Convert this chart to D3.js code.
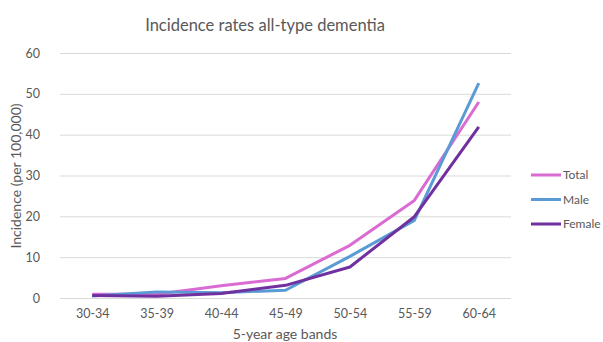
<!DOCTYPE html>
<html>
<head>
<meta charset="utf-8">
<script src="https://cdn.jsdelivr.net/npm/d3@7"></script>
<style>
  html, body { margin: 0; padding: 0; background: #fff; }
  svg { display: block; font-family: Lato, "Noto Sans", sans-serif; }
</style>
</head>
<body>
<svg id="chart" width="603" height="342"></svg>
<script>
// Age bands on the x axis
const ageBands = ["30-34", "35-39", "40-44", "45-49", "50-54", "55-59", "60-64"];
// Incidence per 100,000 for each band
const totalRates  = [0.9, 0.9, 3.0, 4.8, 12.9, 23.9, 48.0];
const maleRates   = [0.5, 1.5, 1.3, 1.9, 10.2, 19.0, 52.6];
const femaleRates = [0.6, 0.4, 1.1, 3.1, 7.6, 19.9, 41.9];
const yTicks = [0, 10, 20, 30, 40, 50, 60];

const seriesNames  = ["Total", "Male", "Female"];
const seriesColors = ["#DA6BD2", "#5B9BD5", "#7030A0"];
const seriesValues = [totalRates, maleRates, femaleRates];

const svg = d3.select("#chart");
const plot = { left: 60, right: 511, top: 53, bottom: 298 };
const textColor = "#595959";
const font = "Lato, sans-serif";

const x = d3.scalePoint().domain(ageBands).range([plot.left, plot.right]).padding(0.5);
const y = d3.scaleLinear().domain([0, 60]).range([plot.bottom, plot.top]);

// Title
svg.append("text")
  .attr("x", 265).attr("y", 31)
  .attr("text-anchor", "middle")
  .attr("font-size", 16.5)
  .attr("fill", textColor)
  .text("Incidence rates all-type dementia");

// Horizontal gridlines + y tick labels
const yAxis = d3.axisLeft(y).tickValues(yTicks).tickSize(-(plot.right - plot.left)).tickPadding(20);
const gy = svg.append("g").attr("transform", `translate(${plot.left},0)`).call(yAxis);
gy.select(".domain").remove();
gy.selectAll(".tick line").attr("stroke", "#d9d9d9").attr("stroke-width", 1);
gy.selectAll(".tick text").attr("fill", textColor).attr("font-size", 12.5)
  .attr("font-family", font);

// X tick labels
const xAxis = d3.axisBottom(x).tickSize(0).tickPadding(11);
const gx = svg.append("g").attr("transform", `translate(0,${plot.bottom})`).call(xAxis);
gx.select(".domain").remove();
gx.selectAll(".tick text").attr("fill", textColor).attr("font-size", 12.5)
  .attr("font-family", font);

// Axis titles
svg.append("text")
  .attr("x", 285).attr("y", 339)
  .attr("text-anchor", "middle")
  .attr("font-size", 14)
  .attr("fill", textColor)
  .text("5-year age bands");

svg.append("text")
  .attr("transform", "translate(21,176) rotate(-90)")
  .attr("text-anchor", "middle")
  .attr("font-size", 14)
  .attr("fill", textColor)
  .text("Incidence (per 100,000)");

// Lines
const line = d3.line().x((d, i) => x(ageBands[i])).y(d => y(d));
seriesValues.forEach((vals, k) => {
  svg.append("path")
    .datum(vals)
    .attr("fill", "none")
    .attr("stroke", seriesColors[k])
    .attr("stroke-width", 3)
    .attr("stroke-linejoin", "round")
    .attr("d", line);
});

// Legend
const legend = svg.append("g");
seriesNames.forEach((name, k) => {
  const ly = 175 + k * 24.5;
  legend.append("line")
    .attr("x1", 531).attr("x2", 561).attr("y1", ly).attr("y2", ly)
    .attr("stroke", seriesColors[k]).attr("stroke-width", 3);
  legend.append("text")
    .attr("x", 563).attr("y", ly).attr("dy", "0.35em")
    .attr("font-size", 12).attr("fill", textColor)
    .text(name);
});
</script>
</body>
</html>
